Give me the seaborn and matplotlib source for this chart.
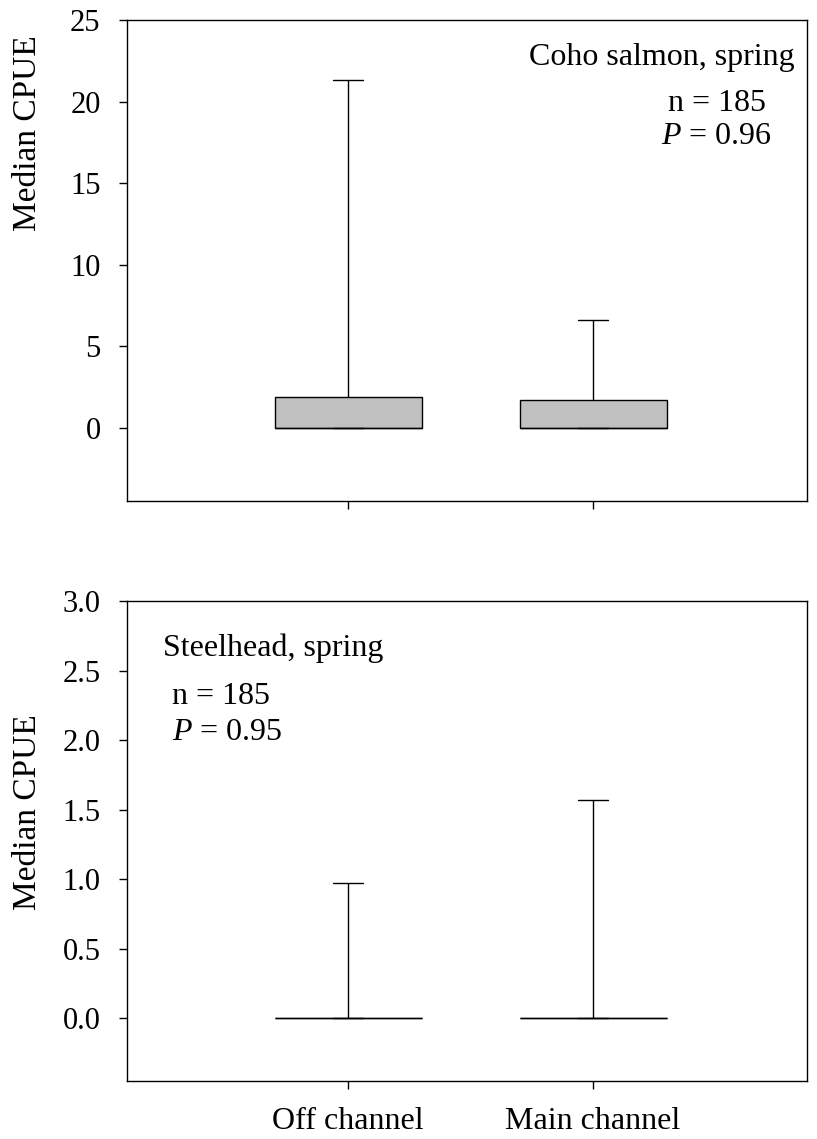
import numpy as np
import pandas as pd
import matplotlib.pyplot as plt
import seaborn as sns

# Categories
sites = ["Off channel", "Main channel"]

# five-number summaries (min, q1, median, q3, max)
coho_off = [0, 0, 0, 1.9, 21.3]
coho_main = [0, 0, 0, 1.7, 6.6]
steel_off = [0, 0, 0, 0, 0.97]
steel_main = [0, 0, 0, 0, 1.57]

coho_ticks = [0, 5, 10, 15, 20, 25]
steel_ticks = [0.0, 0.5, 1.0, 1.5, 2.0, 2.5, 3.0]

# Style
sns.set_theme(style="ticks")
plt.rcParams["font.family"] = ["Liberation Serif", "DejaVu Serif"]
plt.rcParams["mathtext.fontset"] = "custom"
plt.rcParams["mathtext.rm"] = "Liberation Serif"
plt.rcParams["mathtext.it"] = "Liberation Serif:italic"
plt.rcParams["axes.edgecolor"] = "black"
plt.rcParams["axes.linewidth"] = 1.0
plt.rcParams["text.color"] = "black"
plt.rcParams["axes.labelcolor"] = "black"
plt.rcParams["xtick.color"] = "black"
plt.rcParams["ytick.color"] = "black"

FS = 23


def draw_panel(ax, off, main, ylim, yticks, fmt):
    df = pd.DataFrame({
        "site": [sites[0]] * len(off) + [sites[1]] * len(main),
        "cpue": off + main,
    })
    sns.boxplot(data=df, x="site", y="cpue", order=sites, whis=(0, 100),
                width=0.6, color="#c0c0c0", saturation=1, linecolor="black",
                linewidth=1, showfliers=False, capwidths=0.12, ax=ax)
    ax.set_xlim(-0.902, 1.873)
    ax.set_ylim(*ylim)
    ax.set_yticks(yticks)
    ax.set_yticklabels([fmt.format(t) for t in yticks])
    ax.set_xlabel("")
    ax.set_ylabel("Median CPUE", fontsize=FS + 1)
    ax.tick_params(axis="both", direction="out", length=6, width=1,
                   color="black", labelcolor="black", labelsize=FS - 1, pad=13)
    for s in ax.spines.values():
        s.set_visible(True)
        s.set_color("black")
        s.set_linewidth(1.0)


fig = plt.figure(figsize=(8.17, 11.39), dpi=100)
ax1 = fig.add_axes([127 / 817, 1 - 501 / 1139, 680 / 817, 481 / 1139])
ax2 = fig.add_axes([127 / 817, 1 - 1081 / 1139, 680 / 817, 480 / 1139])

draw_panel(ax1, coho_off, coho_main, (-4.5, 25), coho_ticks, "{:g}")
ax1.set_xticklabels([])
ax1.yaxis.set_label_coords(-0.124, 0.765)
ax1.text(0.982, 0.921, "Coho salmon, spring", transform=ax1.transAxes,
         ha="right", va="center", fontsize=FS)
ax1.text(0.867, 0.827, "n = 185", transform=ax1.transAxes,
         ha="center", va="center", fontsize=FS)
ax1.text(0.867, 0.757, r"$\mathit{P}$ = 0.96", transform=ax1.transAxes,
         ha="center", va="center", fontsize=FS)

draw_panel(ax2, steel_off, steel_main, (-0.45, 3.0), steel_ticks, "{:.1f}")
ax2.tick_params(axis="x", labelsize=FS)
ax2.yaxis.set_label_coords(-0.124, 0.56)
ax2.text(0.053, 0.902, "Steelhead, spring", transform=ax2.transAxes,
         ha="left", va="center", fontsize=FS)
ax2.text(0.066, 0.800, "n = 185", transform=ax2.transAxes,
         ha="left", va="center", fontsize=FS)
ax2.text(0.066, 0.727, r"$\mathit{P}$ = 0.95", transform=ax2.transAxes,
         ha="left", va="center", fontsize=FS)

fig.savefig("out.png", dpi=100)
